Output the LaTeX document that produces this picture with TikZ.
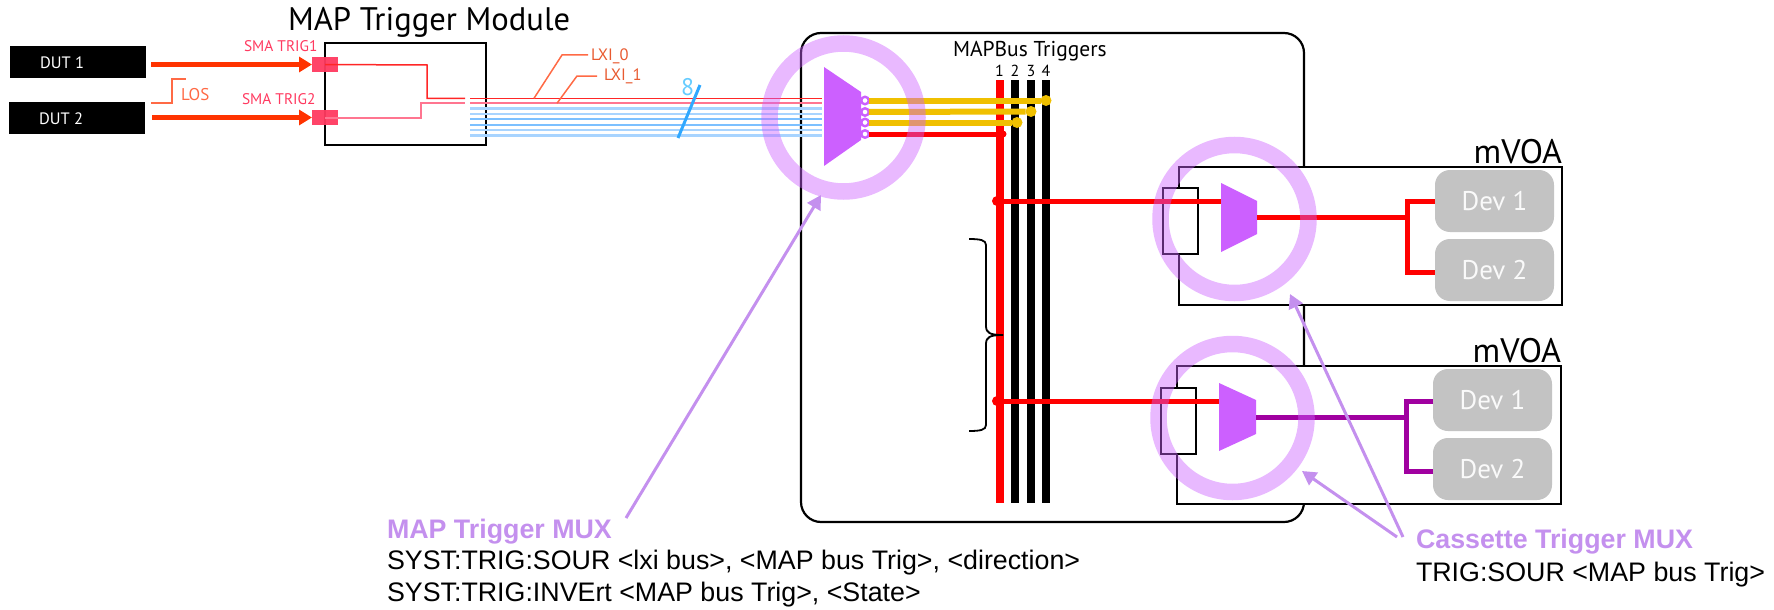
\documentclass[tikz,border=0pt]{standalone}
\usepackage{fontspec}
\setmainfont{PT Sans}
\newfontfamily\arialf{Liberation Sans}
\usetikzlibrary{arrows.meta,shapes.geometric}
\definecolor{trigred}{HTML}{FF3300}
\definecolor{smapink}{HTML}{FF3A60}
\definecolor{losor}{HTML}{FF6A45}
\definecolor{lxior}{HTML}{E85A30}
\definecolor{busred}{HTML}{FF0000}
\definecolor{busyellow}{HTML}{F0C000}
\definecolor{muxpurple}{HTML}{CC60FF}
\definecolor{callout}{HTML}{C490EE}
\definecolor{devgray}{HTML}{C3C3C3}
\definecolor{magentaline}{HTML}{A000A0}
\definecolor{bluea}{HTML}{A8D4FF}
\definecolor{blueb}{HTML}{7CC0FF}
\definecolor{slashblue}{HTML}{30A8FF}
\definecolor{eightblue}{HTML}{66CCFF}
\newcommand{\fs}[1]{\fontsize{#1}{#1}\selectfont}
\tikzset{
  dutbox/.style={fill=black,minimum width=136,minimum height=32,inner sep=0,outer sep=0},
  duttext/.style={inner sep=0,outer sep=0,anchor=west,text=white,font=\fs{16.5}},
  smabox/.style={fill=smapink,fill opacity=.95,minimum width=26,minimum height=15,inner sep=0,outer sep=0},
  blackbox/.style={draw=black,line width=2.8,fill=white,inner sep=0,outer sep=0},
  thinbox/.style={draw=black,line width=1.8,fill=white,inner sep=0,outer sep=0},
  devbox/.style={fill=devgray,rounded corners=15,text=white!92!devgray,minimum width=119,minimum height=62,inner sep=0,outer sep=0,font=\fs{27}},
  ring/.style={circle,draw=muxpurple,draw opacity=.44,line width=16.5,minimum size=148,inner sep=0,outer sep=0},
  mainarrow/.style={draw=trigred,line width=5,-{Triangle[length=13,width=15]}},
  redthin/.style={draw=busred!85!white,line width=1.5},
  pinkthin/.style={draw=smapink!70!white,line width=2},
  bluethina/.style={draw=bluea,line width=2.6},
  bluethinb/.style={draw=blueb,line width=2.2},
  leader/.style={draw=losor,line width=1.5},
  busline/.style={line width=8},
  redline/.style={draw=busred,line width=5},
  magline/.style={draw=magentaline,line width=5},
  yellowline/.style={draw=busyellow,line width=6},
  yellowdot/.style={circle,fill=busyellow,minimum size=11,inner sep=0,outer sep=0},
  reddot/.style={circle,fill=busred,minimum size=10,inner sep=0,outer sep=0},
  portdot/.style={circle,draw=muxpurple,line width=2.4,fill=white,minimum size=7.5,inner sep=0,outer sep=0},
  calloutarrow/.style={draw=callout,line width=3,-{Triangle[length=14,width=15]}},
  lab/.style={inner sep=0,outer sep=0,anchor=west},
  arialtxt/.style={lab,font=\arialf\fs{26.8},text=black},
  arialhead/.style={lab,font=\arialf\bfseries\fs{26.8},text=callout},
}
\begin{document}
\begin{tikzpicture}[x=1pt,y=-1pt]
\useasboundingbox (0,0) rectangle (1774,610);
% DUTs and input side
\node[dutbox] (dut1) at (78,62) {};
\node[dutbox] (dut2) at (77,118) {};
\node[duttext] (dut1t) at (40,63) {DUT 1};
\node[duttext] (dut2t) at (39,119) {DUT 2};
\node[blackbox,minimum width=161,minimum height=102] (module) at (405.5,94) {};
\node[lab,font=\fs{32.6}] (moduletitle) at (288,22) {MAP Trigger Module};
\node[smabox] (sma1) at (325,64.5) {};
\node[smabox] (sma2) at (325,117.5) {};
\coordinate (a1) at (151,64.5); \coordinate (a2) at (152,117.5);
\draw[mainarrow] (a1) -- (sma1.west);
\draw[mainarrow] (a2) -- (sma2.west);
\node[lab,text=smapink,font=\fs{15.4}] (smat1) at (244,46) {SMA TRIG1};
\node[lab,text=smapink,font=\fs{15.4}] (smat2) at (242,99) {SMA TRIG2};
\coordinate (los0) at (151,103); \coordinate (los1) at (172,103); \coordinate (los2) at (172,79); \coordinate (los3) at (186,79);
\draw[draw=losor,line width=2] (los0) -- (los1) -- (los2) -- (los3);
\node[lab,text=losor,font=\fs{17}] (lostext) at (181,95) {LOS};
% main MAP box
\draw[draw=black,line width=2.2,rounded corners=20] (801,33) rectangle (1304,522);
% lxi lines
\coordinate (lr) at (822,98.3); \coordinate (lp) at (822,103.3);
\coordinate (m1) at (427,65); \coordinate (m1b) at (427,98.3); \coordinate (m1e) at (465,98.3);
\coordinate (m2) at (421,117.5); \coordinate (m2b) at (421,103.3); \coordinate (m2e) at (465,103.3);
\coordinate (s1) at (470,98.3); \coordinate (s2) at (470,103.3);
\draw[redthin] (sma1.center) -- (m1) -- (m1b) -- (m1e);
\draw[pinkthin] (sma2.center) -- (m2) -- (m2b) -- (m2e);
\draw[pinkthin] (s2) -- (lp);
\draw[redthin] (s1) -- (lr);
\foreach \yy/\st in {108.3/bluethina,114/bluethina,119.3/bluethinb,124.7/bluethinb,130/bluethina,135.3/bluethina}{
  \draw[\st] (470,\yy) -- (822,\yy);
}
\coordinate (slash1) at (678,138); \coordinate (slash2) at (700,85);
\draw[draw=slashblue,line width=3] (slash1) -- (slash2);
\node[lab,text=eightblue,font=\fs{24}] (eight) at (681,87) {8};
\coordinate (l0a) at (534,98.3); \coordinate (l0b) at (562,55); \coordinate (l0c) at (588,55);
\coordinate (l1a) at (557,103.3); \coordinate (l1b) at (577,76); \coordinate (l1c) at (597,76);
\draw[leader] (l0a) -- (l0b) -- (l0c);
\draw[leader] (l1a) -- (l1b) -- (l1c);
\node[lab,text=lxior,font=\fs{16.5}] (lxi0) at (591,56) {LXI\_0};
\node[lab,text=lxior,font=\fs{16.5}] (lxi1) at (604,76) {LXI\_1};
% buses
\node[lab,font=\fs{21.5}] (bustitle) at (953,51) {MAPBus Triggers};
\foreach \xx/\nn in {999.5/1,1015/2,1031/3,1046/4}{
  \node[inner sep=0,font=\fs{16}] (n\nn) at (\xx,71) {\nn};
}
\foreach \xx/\nn in {1015/2,1031/3,1046/4}{
  \coordinate (bt\nn) at (\xx,80); \coordinate (bb\nn) at (\xx,503);
  \draw[busline,draw=black] (bt\nn) -- (bb\nn);
}
\coordinate (bt1) at (1000,80); \coordinate (bb1) at (1000,503);
% mux main
\path[fill=muxpurple] (824,67) -- (861,92) -- (861,140) -- (824,166) -- cycle;
\node[portdot] (p1) at (865,100.5) {};
\node[portdot] (p2) at (865,112) {};
\node[portdot] (p3) at (865,122.5) {};
\node[portdot] (p4) at (865,134) {};
\node[reddot,minimum size=7] (d1) at (1003,134) {};
\draw[redline] (p4.east) -- (d1.center);
\draw[busline,draw=busred] (bt1) -- (bb1);
\node[yellowdot] (y4) at (1046,100.5) {};
\node[yellowdot] (y3) at (1031,111.5) {};
\node[yellowdot] (y2) at (1017,122.5) {};
\draw[yellowline] (p1.east) -- (y4);
\draw[yellowline] (p2.east) -- (y3);
\draw[yellowline] (p3.east) -- (y2);
% brace
\coordinate (brt) at (969,239); \coordinate (brm) at (1003,335); \coordinate (brb) at (969,431);
\draw[draw=black,line width=1.8] (brt) .. controls (980,239) and (986,240) .. (986,245) -- (986,326)
  .. controls (986,333) and (990,335) .. (brm);
\draw[draw=black,line width=1.8] (brb) .. controls (980,431) and (986,430) .. (986,425) -- (986,344)
  .. controls (986,337) and (990,335) .. (brm);
% mVOA 1
\node[blackbox,minimum width=383,minimum height=138] (voa1) at (1370.5,236) {};
\node[thinbox,minimum width=35,minimum height=66] (sw1) at (1180.5,221) {};
\node[devbox] (dev11) at (1494.5,201) {Dev 1};
\node[devbox] (dev12) at (1494.5,270) {Dev 2};
\node[reddot] (b1) at (997,201) {};
\coordinate (mi1) at (1221,201); \coordinate (mo1) at (1257,217);
\draw[redline] (b1.center) -- (mi1);
\path[fill=muxpurple] (1221,183) -- (1257,201) -- (1257,234) -- (1221,252) -- cycle;
\coordinate (j1) at (1407,217); \coordinate (j1t) at (1407,201); \coordinate (j1b) at (1407,272);
\draw[redline] (mo1) -- (j1);
\draw[redline] (dev11.west |- j1t) -- (j1t) -- (j1b) -- (dev12.west |- j1b);
\node[lab,anchor=east,font=\fs{34}] (voa1t) at (1562,152) {mVOA};
% mVOA 2
\node[blackbox,minimum width=384,minimum height=138] (voa2) at (1369,435) {};
\node[thinbox,minimum width=35,minimum height=66] (sw2) at (1178.5,421) {};
\node[devbox] (dev21) at (1492.5,400) {Dev 1};
\node[devbox] (dev22) at (1492.5,469) {Dev 2};
\node[reddot] (b2) at (997,401) {};
\coordinate (mi2) at (1219,401); \coordinate (mo2) at (1256,417);
\draw[redline] (b2.center) -- (mi2);
\path[fill=muxpurple] (1219,383) -- (1256,400) -- (1256,434) -- (1219,451) -- cycle;
\coordinate (j2) at (1406,417); \coordinate (j2t) at (1406,401); \coordinate (j2b) at (1406,471);
\draw[magline] (mo2) -- (j2);
\draw[magline] (dev21.west |- j2t) -- (j2t) -- (j2b) -- (dev22.west |- j2b);
\node[lab,anchor=east,font=\fs{34}] (voa2t) at (1561,351) {mVOA};
% rings
\node[ring] (ringmain) at (843.5,117.5) {};
\node[ring] (ring1) at (1234.5,219) {};
\node[ring] (ring2) at (1232.5,418) {};
% callouts
\coordinate (c0) at (626,518); \coordinate (c0t) at (821,195);
\coordinate (c1) at (1403,537); \coordinate (c1t) at (1290,294);
\coordinate (c2) at (1397,537); \coordinate (c2t) at (1302,471);
\draw[calloutarrow] (c0) -- (c0t);
\draw[calloutarrow] (c1) -- (c1t);
\draw[calloutarrow] (c2) -- (c2t);
\node[arialhead] (t1) at (387,532) {MAP Trigger MUX};
\node[arialtxt] (t2) at (387,563) {SYST:TRIG:SOUR <lxi bus>, <MAP bus Trig>, <direction>};
\node[arialtxt] (t3) at (387,595) {SYST:TRIG:INVErt <MAP bus Trig>, <State>};
\node[arialhead] (t4) at (1416,542) {Cassette Trigger MUX};
\node[arialtxt] (t5) at (1416,575) {TRIG:SOUR <MAP bus Trig>};
\end{tikzpicture}
\end{document}
